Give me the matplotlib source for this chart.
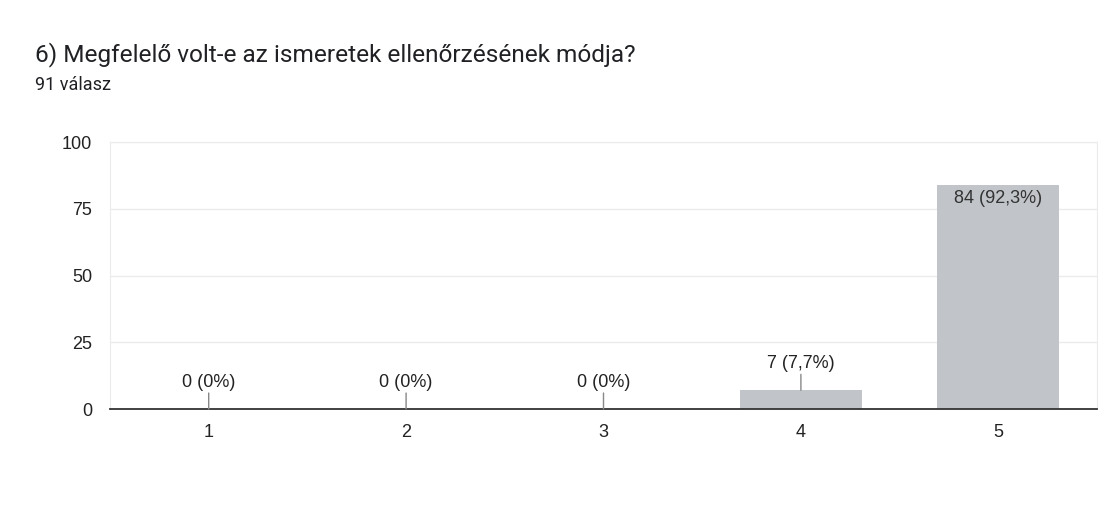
import matplotlib.pyplot as plt
import numpy as np

plt.rcParams['font.family'] = ['Roboto', 'DejaVu Sans']

title = "6) Megfelelő volt-e az ismeretek ellenőrzésének módja?"
subtitle = "91 válasz"
categories = ["1", "2", "3", "4", "5"]
counts = [0, 0, 0, 7, 84]
labels = ["0 (0%)", "0 (0%)", "0 (0%)", "7 (7,7%)", "84 (92,3%)"]
yticks = [0, 25, 50, 75, 100]

chart_font = ['Liberation Sans', 'DejaVu Sans']

fig = plt.figure(figsize=(10.98, 5.22), dpi=100)
ax = fig.add_axes([110 / 1098, 113 / 522, 987 / 1098, 267 / 522])

x = np.arange(len(categories))
ax.bar(x, counts, width=0.62, color="#c1c5c9", zorder=2)

ax.set_xlim(-0.5, len(categories) - 0.5)
ax.set_ylim(0, 100)
ax.set_yticks(yticks)
ax.set_xticks(x)
ax.set_xticklabels(categories, family=chart_font)
ax.set_yticklabels([str(t) for t in yticks], family=chart_font)
ax.tick_params(axis="both", length=0, labelsize=13, colors="#222222")
ax.tick_params(axis="y", pad=13)
ax.tick_params(axis="x", pad=11)
ax.grid(axis="y", color="#ebebeb", linewidth=1, zorder=0)
for s in ["top", "right", "left"]:
    ax.spines[s].set_color("#ebebeb")
ax.spines["bottom"].set_color("#333333")
ax.spines["bottom"].set_linewidth(1.3)
ax.spines["bottom"].set_zorder(3)

for xi, c, lab in zip(x, counts, labels):
    if c > 70:
        ax.annotate(lab, (xi, c), xytext=(0, -10), textcoords="offset points",
                    ha="center", va="center", fontsize=13, color="#333333",
                    family=chart_font, zorder=4)
    else:
        ax.annotate("", (xi, c), xytext=(0, 11.5), textcoords="offset points",
                    arrowprops=dict(arrowstyle="-", color="#888888", lw=1,
                                    shrinkA=0, shrinkB=0), zorder=4)
        ax.annotate(lab, (xi, c), xytext=(0, 19), textcoords="offset points",
                    ha="center", va="center", fontsize=13, color="#222222",
                    family=chart_font, zorder=4)

fig.text(35 / 1098, 1 - 55 / 522, title, fontsize=17.6, color="#202124", va="center", ha="left")
fig.text(35 / 1098, 1 - 85 / 522, subtitle, fontsize=13, color="#202124", va="center", ha="left")

fig.savefig("out.png", dpi=100, facecolor="white")
